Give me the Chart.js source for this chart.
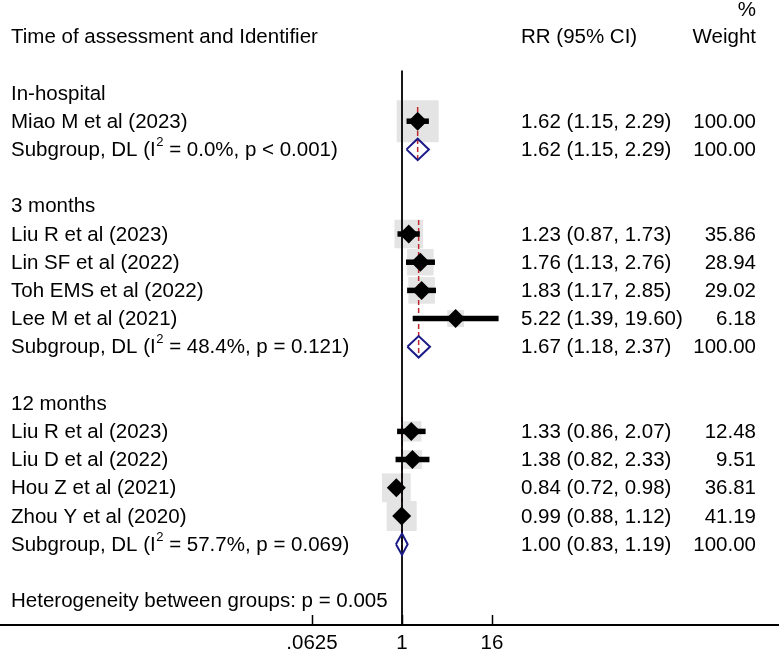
<!DOCTYPE html>
<html>
<head>
<meta charset="utf-8">
<script src="https://cdn.jsdelivr.net/npm/chart.js@4.4.1/dist/chart.umd.min.js"></script>
<style>
  html, body { margin: 0; padding: 0; background: #fff; }
  #wrap { width: 779px; height: 651px; position: relative; }
</style>
</head>
<body>
<div id="wrap"><canvas id="forest"></canvas></div>
<script>
// ── Forest plot data ──
const groups = ['In-hospital', '3 months', '12 months'];
const groupI2 = ['0.0%', '48.4%', '57.7%'];
const groupP = ['p < 0.001', 'p = 0.121', 'p = 0.069'];
const groupRR = [1.62, 1.67, 1.00];
const groupLower = [1.15, 1.18, 0.83];
const groupUpper = [2.29, 2.37, 1.19];
const groupWeight = [100.00, 100.00, 100.00];

const studies = ['Miao M et al (2023)', 'Liu R et al (2023)', 'Lin SF et al (2022)', 'Toh EMS et al (2022)',
  'Lee M et al (2021)', 'Liu R et al (2023)', 'Liu D et al (2022)', 'Hou Z et al (2021)', 'Zhou Y et al (2020)'];
const studyGroup = [0, 1, 1, 1, 1, 2, 2, 2, 2];
const rr = [1.62, 1.23, 1.76, 1.83, 5.22, 1.33, 1.38, 0.84, 0.99];
const lower = [1.15, 0.87, 1.13, 1.17, 1.39, 0.86, 0.82, 0.72, 0.88];
const upper = [2.29, 1.73, 2.76, 2.85, 19.60, 2.07, 2.33, 0.98, 1.12];
const weight = [100.00, 35.86, 28.94, 29.02, 6.18, 12.48, 9.51, 36.81, 41.19];

const heterogeneity = 'Heterogeneity between groups: p = 0.005';
const xTicks = [0.0625, 1, 16];
const xTickLabels = ['.0625', '1', '16'];

// ── Row layout ──
let r = 0;
const groupRow = [], subRow = [], studyRow = [];
groups.forEach((g, gi) => {
  groupRow.push(r++);
  studyGroup.forEach((sg, i) => { if (sg === gi) studyRow[i] = r++; });
  subRow.push(r++);
  r++;
});
const hetRow = r;

const FONT = '20.5px "Liberation Sans", Arial, sans-serif';
const SUP_FONT = '13px "Liberation Sans", Arial, sans-serif';
const NAVY = '#1b1b88';
const RED = '#c0282e';
const fmt = v => v.toFixed(2);

// ── Datasets ──
const datasets = [];

// weight boxes
datasets.push({
  data: rr.map((v, i) => ({ x: v, y: studyRow[i] })),
  pointStyle: 'rect',
  pointRadius: weight.map(w => (8.5 + 3.35 * Math.sqrt(w)) / 2 / Math.SQRT1_2),
  backgroundColor: '#e4e4e4',
  borderWidth: 0,
  showLine: false,
  order: 10
});

// null line
datasets.push({
  data: [{ x: 1, y: -0.8 }, { x: 1, y: 19 }],
  showLine: true,
  borderColor: '#000',
  borderWidth: 1.8,
  pointRadius: 0,
  order: 8
});

// subgroup estimate dashed lines
groups.forEach((g, gi) => {
  const rows = studyRow.filter((_, i) => studyGroup[i] === gi);
  datasets.push({
    data: [{ x: groupRR[gi], y: Math.min(...rows) - 0.5 }, { x: groupRR[gi], y: subRow[gi] + 0.4 }],
    showLine: true,
    borderColor: RED,
    borderWidth: 1.5,
    borderDash: [5, 3],
    pointRadius: 0,
    order: 9
  });
});

// confidence intervals
rr.forEach((v, i) => {
  datasets.push({
    data: [{ x: lower[i], y: studyRow[i] }, { x: upper[i], y: studyRow[i] }],
    showLine: true,
    borderColor: '#000',
    borderWidth: 5.5,
    borderCapStyle: 'butt',
    pointRadius: 0,
    order: 5
  });
});

// point estimates
datasets.push({
  data: rr.map((v, i) => ({ x: v, y: studyRow[i] })),
  pointStyle: 'rectRot',
  pointRadius: 9.5,
  backgroundColor: '#000',
  borderWidth: 0,
  showLine: false,
  order: 3
});

// subgroup diamonds
groups.forEach((g, gi) => {
  const y = subRow[gi], h = 0.38;
  datasets.push({
    data: [
      { x: groupLower[gi], y },
      { x: groupRR[gi], y: y - h },
      { x: groupUpper[gi], y },
      { x: groupRR[gi], y: y + h },
      { x: groupLower[gi], y }
    ],
    showLine: true,
    fill: false,
    tension: 0,
    borderColor: NAVY,
    borderWidth: 2,
    borderJoinStyle: 'miter',
    pointRadius: 0,
    order: 2
  });
});

// ── Text columns ──
const textPlugin = {
  id: 'forestText',
  afterDatasetsDraw(chart) {
    const { ctx, scales: { x, y } } = chart;
    const ty = row => y.getPixelForValue(row) + 1;
    ctx.save();
    ctx.fillStyle = '#000';
    ctx.font = FONT;
    ctx.textBaseline = 'middle';

    const left = (t, row) => { ctx.textAlign = 'left'; ctx.fillText(t, 11, ty(row)); };
    const rrCol = (t, row) => { ctx.textAlign = 'left'; ctx.fillText(t, 521, ty(row)); };
    const wCol = (t, row) => { ctx.textAlign = 'right'; ctx.fillText(t, 756, ty(row)); };

    // header
    left('Time of assessment and Identifier', -2);
    rrCol('RR (95% CI)', -2);
    wCol('Weight', -2);
    wCol('%', -2.95);

    groups.forEach((g, gi) => {
      left(g, groupRow[gi]);
      // subgroup label with superscript
      const py = ty(subRow[gi]);
      ctx.textAlign = 'left';
      let px = 11;
      const a = 'Subgroup, DL (I';
      ctx.font = FONT;
      ctx.fillText(a, px, py);
      px += ctx.measureText(a).width;
      ctx.font = SUP_FONT;
      ctx.fillText('2', px + 0.5, py - 8);
      px += ctx.measureText('2').width + 0.5;
      ctx.font = FONT;
      ctx.fillText(` = ${groupI2[gi]}, ${groupP[gi]})`, px, py);
      rrCol(`${fmt(groupRR[gi])} (${fmt(groupLower[gi])}, ${fmt(groupUpper[gi])})`, subRow[gi]);
      wCol(fmt(groupWeight[gi]), subRow[gi]);
    });

    studies.forEach((s, i) => {
      left(s, studyRow[i]);
      rrCol(`${fmt(rr[i])} (${fmt(lower[i])}, ${fmt(upper[i])})`, studyRow[i]);
      wCol(fmt(weight[i]), studyRow[i]);
    });

    left(heterogeneity, hetRow);

    // upward tick marks on the x axis
    ctx.strokeStyle = '#000';
    ctx.lineWidth = 1.5;
    xTicks.forEach(v => {
      const px = Math.round(x.getPixelForValue(v)) + 0.5;
      ctx.beginPath();
      ctx.moveTo(px, x.top);
      ctx.lineTo(px, x.top - 10);
      ctx.stroke();
    });
    ctx.restore();
  }
};

new Chart(document.getElementById('forest'), {
  type: 'scatter',
  data: { datasets },
  options: {
    responsive: true,
    maintainAspectRatio: false,
    animation: false,
    layout: { padding: { left: 0, right: 0, top: 0, bottom: -10 }, autoPadding: false },
    plugins: { legend: { display: false }, tooltip: { enabled: false } },
    scales: {
      x: {
        type: 'logarithmic',
        min: Math.pow(2, -402 / 22.5),
        max: Math.pow(2, (779 - 402) / 22.5),
        afterBuildTicks: scale => { scale.ticks = xTicks.map(v => ({ value: v })); },
        ticks: {
          autoSkip: false,
          maxRotation: 0,
          color: '#000',
          padding: 5.7,
          font: { family: '"Liberation Sans", Arial, sans-serif', size: 20.5 },
          callback: value => xTickLabels[xTicks.indexOf(value)]
        },
        grid: { display: false, drawTicks: false },
        border: { display: true, color: '#000', width: 2 }
      },
      y: {
        type: 'linear',
        display: false,
        reverse: true,
        min: -3.298,
        max: 18.865
      }
    }
  },
  plugins: [textPlugin]
});
</script>
</body>
</html>
